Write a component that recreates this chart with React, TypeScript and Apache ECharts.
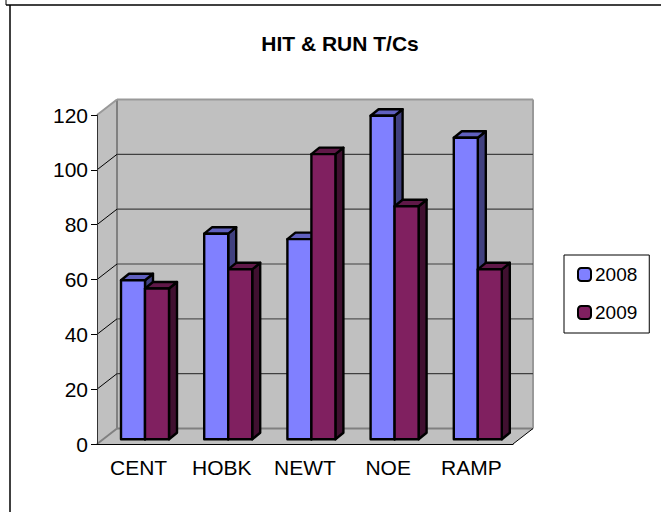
import React, { useEffect, useRef } from "react";
import * as echarts from "echarts";

const categories = ["CENT", "HOBK", "NEWT", "NOE", "RAMP"];
const values2008 = [58, 75, 73, 118, 110];
const values2009 = [55, 62, 104, 85, 62];
const yTicks = [0, 20, 40, 60, 80, 100, 120];

const FONT = '"Liberation Sans", Arial, sans-serif';
const WALL_DX = 20;
const WALL_DY = 15.5;
const BAR_START = 24;
const BAR_W = 24;
const BAR_DX = 8;
const BAR_DY = 6.5;
const BAR_LIFT = 4.7;
const GRAY = "#808080";

const wallRender = (params: any, api: any) => {
  const cs = params.coordSys;
  const v = api.value(1);
  const y = api.coord([0, v])[1];
  const xL = cs.x;
  const xR = cs.x + cs.width;
  const children: any[] = [];
  const line = (x1: number, y1: number, x2: number, y2: number, stroke: string, lineWidth: number) => ({
    type: "line",
    shape: { x1, y1, x2, y2 },
    style: { stroke, lineWidth },
  });
  if (v === 0) {
    const top = cs.y;
    const fill = { fill: "#C0C0C0" };
    children.push(
      { type: "polygon", shape: { points: [[xL + WALL_DX, top - WALL_DY], [xR + WALL_DX, top - WALL_DY], [xR + WALL_DX, y - WALL_DY], [xL + WALL_DX, y - WALL_DY]] }, style: fill },
      { type: "polygon", shape: { points: [[xL, top], [xL + WALL_DX, top - WALL_DY], [xL + WALL_DX, y - WALL_DY], [xL, y]] }, style: fill },
      { type: "polygon", shape: { points: [[xL, y], [xR, y], [xR + WALL_DX, y - WALL_DY], [xL + WALL_DX, y - WALL_DY]] }, style: fill },
      line(xL + WALL_DX, y - WALL_DY, xR + WALL_DX, y - WALL_DY, GRAY, 2),
      line(xL + WALL_DX, top - WALL_DY, xL + WALL_DX, y - WALL_DY, GRAY, 2),
      line(xR + WALL_DX, top - WALL_DY, xR + WALL_DX, y - WALL_DY, "#999999", 2),
      line(xL, y, xL + WALL_DX, y - WALL_DY, GRAY, 2),
      line(xR, y, xR + WALL_DX, y - WALL_DY, "#000000", 1)
    );
  } else if (v === yTicks[yTicks.length - 1]) {
    children.push(
      line(xL + WALL_DX, y - WALL_DY, xR + WALL_DX, y - WALL_DY, "#999999", 2),
      line(xL, y, xL + WALL_DX, y - WALL_DY, "#999999", 2)
    );
  } else {
    children.push(
      line(xL + WALL_DX, y - WALL_DY, xR + WALL_DX, y - WALL_DY, v % 40 === 0 && v < 60 ? "#555555" : "#404040", 1.2),
      line(xL, y, xL + WALL_DX, y - WALL_DY, "#000000", 1)
    );
  }
  return { type: "group", children };
};

const barRender = (slot: number, front: string, top: string, side: string) => (_p: any, api: any) => {
  const c = api.coord([api.value(0), api.value(1)]);
  const base = api.coord([api.value(0), 0]);
  const band = api.size([1, 0])[0];
  const x = c[0] - band / 2 + BAR_START + slot * BAR_W;
  const yT = c[1] - BAR_LIFT;
  const yB = base[1] - BAR_LIFT;
  const stroke = { stroke: "#000000", lineWidth: 2.4, lineJoin: "round" };
  return {
    type: "group",
    children: [
      { type: "polygon", shape: { points: [[x + BAR_W, yT], [x + BAR_W + BAR_DX, yT - BAR_DY], [x + BAR_W + BAR_DX, yB - BAR_DY], [x + BAR_W, yB]] }, style: { fill: side, ...stroke } },
      { type: "polygon", shape: { points: [[x, yT], [x + BAR_DX, yT - BAR_DY], [x + BAR_W + BAR_DX, yT - BAR_DY], [x + BAR_W, yT]] }, style: { fill: top, ...stroke } },
      { type: "rect", shape: { x, y: yT, width: BAR_W, height: yB - yT }, style: { fill: front, ...stroke } },
    ],
  };
};

export default function App() {
  const ref = useRef<HTMLDivElement>(null);
  useEffect(() => {
    const chart = echarts.init(ref.current!, undefined, { renderer: "svg" });
    chart.setOption({
      animation: false,
      backgroundColor: "#ffffff",
      title: {
        text: "HIT & RUN T/Cs",
        left: 340,
        top: 33,
        textAlign: "center",
        padding: 0,
        textStyle: { fontFamily: FONT, fontWeight: "bold", fontSize: 21, color: "#000000" },
      },
      legend: {
        data: ["2008", "2009"],
        orient: "vertical",
        left: 564,
        top: 255,
        padding: [10, 12, 11, 13],
        itemGap: 19,
        itemWidth: 13,
        itemHeight: 13,
        borderColor: "#000000",
        borderWidth: 1,
        backgroundColor: "#ffffff",
        textStyle: { fontFamily: FONT, fontSize: 19, color: "#000000", padding: [0, 0, 0, -1] },
      },
      grid: { left: 97, top: 115, width: 416, height: 329 },
      xAxis: {
        type: "category",
        data: categories,
        z: 5,
        axisLine: { lineStyle: { color: "#000000", width: 1 } },
        axisTick: { length: 6, lineStyle: { color: "#000000" } },
        axisLabel: { fontFamily: FONT, fontSize: 21, color: "#000000", margin: 13 },
      },
      yAxis: {
        type: "value",
        min: 0,
        max: 120,
        interval: 20,
        z: 5,
        splitLine: { show: false },
        axisLine: { show: true, lineStyle: { color: "#333333", width: 1 } },
        axisTick: { show: true, length: 6, lineStyle: { color: "#000000" } },
        axisLabel: { fontFamily: FONT, fontSize: 21, color: "#000000", margin: 9 },
      },
      series: [
        {
          type: "custom",
          name: "walls",
          clip: false,
          silent: true,
          z: 1,
          renderItem: wallRender,
          data: yTicks.map((t) => [0, t]),
          encode: { x: 0, y: 1 },
        },
        {
          type: "custom",
          name: "2008",
          clip: false,
          z: 2,
          itemStyle: { color: "#8080FF", borderColor: "#000000", borderWidth: 2.4 },
          renderItem: barRender(0, "#8080FF", "#6060BF", "#40407F"),
          data: values2008.map((v, i) => [i, v]),
          encode: { x: 0, y: 1 },
        },
        {
          type: "custom",
          name: "2009",
          clip: false,
          z: 3,
          itemStyle: { color: "#802060", borderColor: "#000000", borderWidth: 2.4 },
          renderItem: barRender(1, "#802060", "#601848", "#401030"),
          data: values2009.map((v, i) => [i, v]),
          encode: { x: 0, y: 1 },
        },
      ],
      graphic: [
        { type: "line", silent: true, shape: { x1: 6, y1: 5, x2: 661, y2: 5 }, style: { stroke: "#000000", lineWidth: 1.5 } },
        { type: "line", silent: true, shape: { x1: 6, y1: 0, x2: 6, y2: 5 }, style: { stroke: "#000000", lineWidth: 1 } },
        { type: "line", silent: true, shape: { x1: 10, y1: 5, x2: 10, y2: 512 }, style: { stroke: "#000000", lineWidth: 1.5 } },
      ],
    });
    return () => chart.dispose();
  }, []);
  return <div ref={ref} style={{ position: "fixed", left: 0, top: 0, width: 661, height: 512 }} />;
}
